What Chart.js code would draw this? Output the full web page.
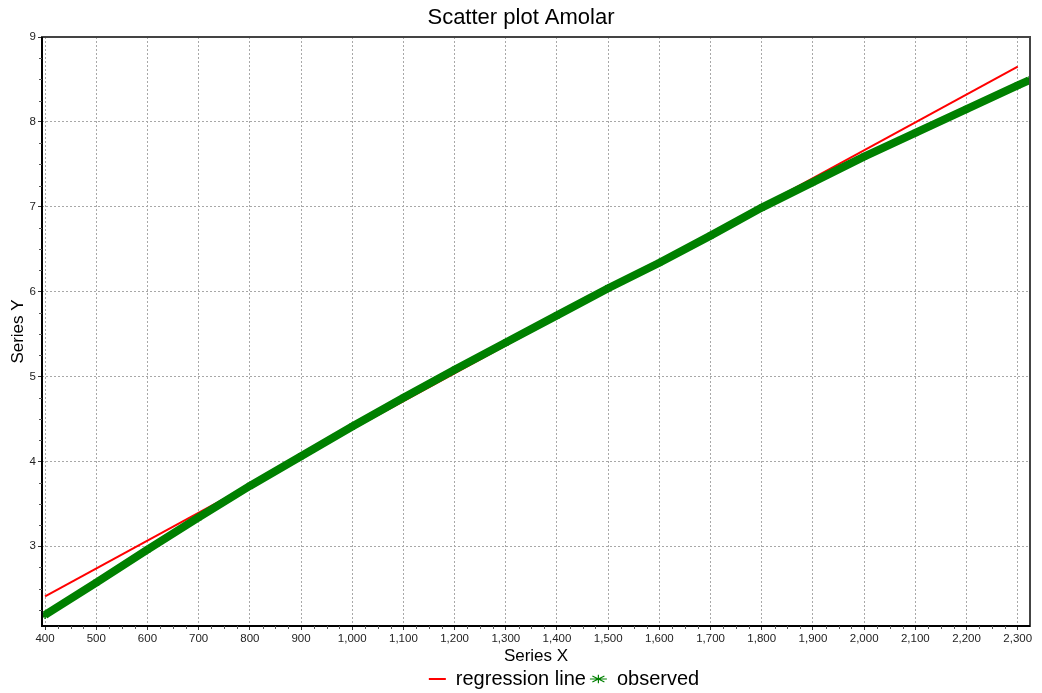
<!DOCTYPE html>
<html>
<head>
<meta charset="utf-8">
<script src="https://cdn.jsdelivr.net/npm/chart.js@4.4.0/dist/chart.umd.min.js"></script>
<style>
  html, body { margin: 0; padding: 0; background: #fff; }
  #wrap { width: 1042px; height: 693px; }
</style>
</head>
<body>
<div id="wrap"><canvas id="myChart" width="1042" height="693"></canvas></div>
<script>
// values
const observedX = [400, 500, 600, 700, 800, 900, 1000, 1100, 1200, 1300, 1400, 1500, 1600, 1700, 1800, 1900, 2000, 2100, 2200, 2300, 2322];
const observedY = [2.19, 2.57, 2.96, 3.34, 3.71, 4.06, 4.41, 4.75, 5.08, 5.40, 5.72, 6.04, 6.34, 6.66, 6.99, 7.29, 7.59, 7.87, 8.15, 8.43, 8.49];
const regressionX = [400, 2300];
const regressionY = [2.41, 8.65];
const xRange = [394, 2324];
const yRange = [2.06, 9];

const toPoints = (xs, ys) => xs.map((x, i) => ({x: x, y: ys[i]}));

// frame around the plot plus the small minor ticks
const framePlugin = {
    id: 'frame',
    afterDraw(chart) {
        const ctx = chart.ctx;
        const a = chart.chartArea;
        const xs = chart.scales.x, ys = chart.scales.y;
        ctx.save();
        ctx.strokeStyle = '#444';
        ctx.lineWidth = 2;
        ctx.strokeRect(a.left, a.top, a.right - a.left, a.bottom - a.top);
        ctx.strokeStyle = '#000';
        ctx.beginPath();
        ctx.moveTo(a.left, a.top); ctx.lineTo(a.left, a.bottom); ctx.lineTo(a.right, a.bottom);
        ctx.stroke();
        ctx.lineWidth = 1;
        ctx.strokeStyle = '#555';
        ctx.beginPath();
        for (let v = 400; v <= xRange[1]; v += 25) {
            if (v % 100 === 0) continue;
            const px = Math.round(xs.getPixelForValue(v)) + 0.5;
            ctx.moveTo(px, a.bottom); ctx.lineTo(px, a.bottom + 3);
        }
        for (let v = 2.25; v < yRange[1]; v += 0.25) {
            if (v % 1 === 0) continue;
            const py = Math.round(ys.getPixelForValue(v)) + 0.5;
            ctx.moveTo(a.left, py); ctx.lineTo(a.left - 3, py);
        }
        ctx.stroke();
        ctx.restore();
    }
};

// nudge the legend a little to the right, as in the original
const legendShift = {
    id: 'legendShift',
    afterLayout(chart) {
        chart.legend.left += 43;
        chart.legend.right += 43;
    }
};

const ctx = document.getElementById('myChart').getContext('2d');
const chart = new Chart(ctx, {
    type: 'scatter',
    data: {
        datasets: [{
            label: 'observed',
            data: toPoints(observedX, observedY),
            showLine: true,
            borderColor: '#008000',
            backgroundColor: '#008000',
            borderWidth: 8,
            pointStyle: 'star',
            pointRadius: 4,
            pointBorderWidth: 1.5,
            pointBorderColor: '#008000',
        }, {
            label: 'regression line',
            data: toPoints(regressionX, regressionY),
            showLine: true,
            borderColor: '#ff0000',
            backgroundColor: '#ff0000',
            borderWidth: 2,
            pointRadius: 0,
            pointStyle: 'line',
        }]
    },
    options: {
        responsive: false,
        animation: false,
        locale: 'en-US',
        layout: { padding: { top: 1, right: 12, bottom: -6, left: 12 } },
        plugins: {
            title: {
                display: true,
                text: 'Scatter plot Amolar',
                color: '#000',
                font: { family: 'Liberation Sans, Arial', size: 22, weight: 'normal' },
                padding: { top: 4, bottom: 5.6 }
            },
            legend: {
                position: 'bottom',
                labels: {
                    color: '#000',
                    font: { family: 'Liberation Sans, Arial', size: 20 },
                    usePointStyle: true,
                    pointStyleWidth: 17,
                    boxHeight: 6,
                    padding: 4,
                    sort: (a, b) => b.datasetIndex - a.datasetIndex,
                    generateLabels: (chart) => chart.data.datasets.map((ds, i) => ({
                        text: ds.label,
                        datasetIndex: i,
                        fillStyle: ds.borderColor,
                        strokeStyle: ds.borderColor,
                        fontColor: '#000',
                        lineWidth: i === 0 ? 1.2 : 2,
                        pointStyle: ds.pointStyle,
                        hidden: false
                    }))
                }
            },
            tooltip: { enabled: false }
        },
        scales: {
            x: {
                type: 'linear',
                min: xRange[0],
                max: xRange[1],
                afterFit: (scale) => { scale.height = 39; },
                ticks: {
                    stepSize: 100,
                    includeBounds: false,
                    maxRotation: 0,
                    autoSkip: false,
                    padding: 2,
                    color: '#222',
                    font: { family: 'Liberation Sans, Arial', size: 11.5 }
                },
                grid: { color: '#a8a8a8', tickColor: '#333', tickLength: 4 },
                border: { display: false, dash: [2, 2] },
                title: {
                    display: true,
                    text: 'Series X',
                    color: '#000',
                    font: { family: 'Liberation Sans, Arial', size: 17 },
                    padding: { top: 0, bottom: -2 }
                }
            },
            y: {
                type: 'linear',
                min: yRange[0],
                max: yRange[1],
                afterFit: (scale) => { scale.width = 30; },
                ticks: {
                    stepSize: 1,
                    includeBounds: false,
                    padding: 2,
                    color: '#222',
                    font: { family: 'Liberation Sans, Arial', size: 11.5 }
                },
                grid: { color: '#a8a8a8', tickColor: '#333', tickLength: 4 },
                border: { display: false, dash: [2, 2] },
                title: {
                    display: true,
                    text: 'Series Y',
                    color: '#000',
                    font: { family: 'Liberation Sans, Arial', size: 17 },
                    padding: { top: -4, bottom: 0 }
                }
            }
        }
    },
    plugins: [framePlugin, legendShift]
});
</script>
</body>
</html>
